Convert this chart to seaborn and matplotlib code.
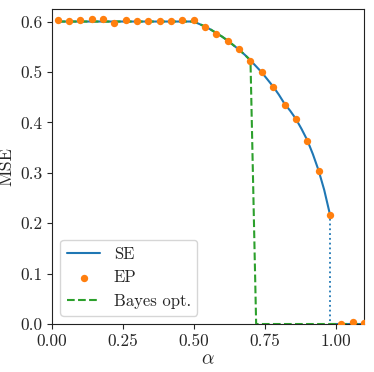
import numpy as np
import pandas as pd
import seaborn as sns
import matplotlib.pyplot as plt

# state evolution curve
se_alpha = [0.02, 0.10, 0.20, 0.30, 0.40, 0.50, 0.52, 0.54, 0.56, 0.58, 0.60, 0.62, 0.64,
            0.66, 0.68, 0.70, 0.72, 0.74, 0.76, 0.78, 0.80, 0.82, 0.84, 0.86, 0.88,
            0.90, 0.92, 0.94, 0.96, 0.98]
se_mse = [0.600, 0.600, 0.600, 0.600, 0.600, 0.600, 0.595, 0.590, 0.584, 0.577, 0.570, 0.562,
          0.553, 0.544, 0.534, 0.523, 0.511, 0.499, 0.485, 0.471, 0.455, 0.437, 0.423,
          0.407, 0.387, 0.365, 0.337, 0.305, 0.266, 0.218]
se_zero_alpha = [0.98, 1.10]
se_zero_mse = [0.0, 0.0]
se_jump_alpha = [0.98, 0.98]
se_jump_mse = [0.218, 0.0]

# EP experiments
ep_alpha = [0.02, 0.06, 0.10, 0.14, 0.18, 0.22, 0.26, 0.30, 0.34, 0.38, 0.42, 0.46, 0.50,
            0.54, 0.58, 0.62, 0.66, 0.70, 0.74, 0.78, 0.82, 0.86, 0.90, 0.94, 0.98,
            1.02, 1.06, 1.10]
ep_mse = [0.604, 0.602, 0.603, 0.605, 0.605, 0.598, 0.603, 0.601, 0.601, 0.602, 0.602, 0.604,
          0.603, 0.589, 0.576, 0.561, 0.546, 0.521, 0.499, 0.470, 0.435, 0.407, 0.363,
          0.303, 0.216, 0.0005, 0.003, 0.002]

# Bayes optimal
bo_alpha = [0.02, 0.10, 0.20, 0.30, 0.40, 0.50, 0.52, 0.54, 0.56, 0.58, 0.60, 0.62, 0.64,
            0.66, 0.68, 0.70, 0.72, 0.80, 0.90, 1.00, 1.10]
bo_mse = [0.600, 0.600, 0.600, 0.600, 0.600, 0.600, 0.595, 0.590, 0.584, 0.577, 0.570, 0.562,
          0.553, 0.544, 0.534, 0.523, 0.0, 0.0, 0.0, 0.0, 0.0]

sns.set_style("ticks")
plt.rcParams.update({
    "font.family": "serif",
    "font.serif": ["cmr10"],
    "mathtext.fontset": "cm",
    "axes.formatter.use_mathtext": True,
    "font.size": 12,
    "axes.edgecolor": "#222222",
    "xtick.direction": "out",
    "ytick.direction": "out",
})

fig = plt.figure(figsize=(3.74, 3.72), dpi=100)
ax = fig.add_axes([0.139, 0.129, 0.834, 0.847])

c0, c1, c2 = "#1f77b4", "#ff7f0e", "#2ca02c"

sns.lineplot(x=se_alpha, y=se_mse, ax=ax, color=c0, lw=1.5, label="SE",
             estimator=None, sort=False, zorder=2)
sns.lineplot(x=se_zero_alpha, y=se_zero_mse, ax=ax, color=c0, lw=1.5,
             estimator=None, sort=False, zorder=2)
sns.lineplot(x=se_jump_alpha, y=se_jump_mse, ax=ax, color=c0, lw=1.3, ls=":",
             estimator=None, sort=False, zorder=2)
sns.scatterplot(x=ep_alpha, y=ep_mse, ax=ax, color=c1, s=28, linewidth=0,
                label="EP", zorder=4)
sns.lineplot(x=bo_alpha, y=bo_mse, ax=ax, color=c2, lw=1.5, ls="--",
             label="Bayes opt.", estimator=None, sort=False, zorder=3)

ax.set_xlim(0, 1.1)
ax.set_ylim(0, 0.625)
ax.set_xticks([0.0, 0.25, 0.5, 0.75, 1.0])
ax.set_xticklabels(["0.00", "0.25", "0.50", "0.75", "1.00"])
ax.set_yticks([0.0, 0.1, 0.2, 0.3, 0.4, 0.5, 0.6])
ax.set_yticklabels(["0.0", "0.1", "0.2", "0.3", "0.4", "0.5", "0.6"])
ax.tick_params(labelsize=12.5)
ax.set_xlabel(r"$\alpha$", fontsize=14, labelpad=1)
ax.set_ylabel("MSE", fontsize=13)

handles, labels = ax.get_legend_handles_labels()
ax.legend(handles, labels, loc="lower left", fontsize=12, frameon=True)

fig.savefig("out.png", dpi=100)
